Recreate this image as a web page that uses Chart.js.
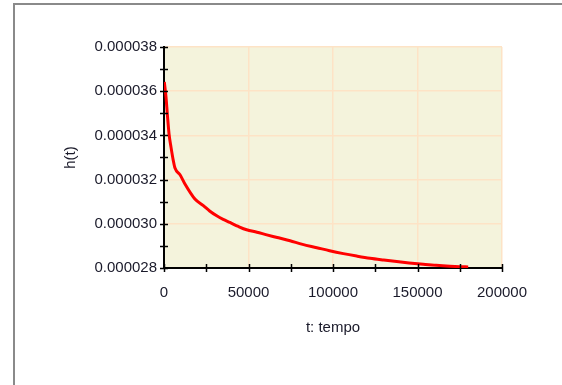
<!DOCTYPE html>
<html lang="pt">
<head>
    <meta charset="UTF-8">
    <title>h(t)</title>
    <script src="https://cdn.jsdelivr.net/npm/chart.js@4.4.0/dist/chart.umd.min.js"></script>
    <style>
        body{ margin:0; overflow:hidden; background:#fff; }
        .frame{
            position:absolute; left:13px; top:3px;
            width:600px; height:400px;
            border-left:2px solid #8a8a8a;
            border-top:2px solid #8a8a8a;
        }
        .box{ position:absolute; left:0; top:0; width:562px; height:385px; }
    </style>
</head>
<body>
    <div class="frame"></div>
    <div class="box"><canvas id="myChart" width="562" height="385"></canvas></div>

    <script>
        // tempo (s) e altura h(t)
        const tValues = [180, 1180, 1950, 2960, 4140, 5500, 6500, 9470, 12400, 18300, 23300, 27000, 31200, 35000, 39000,
            44000, 48900, 55000, 60800, 67000, 74600, 82000, 90400, 98000, 106100, 114000, 121900, 130000,
            137700, 145000, 153400, 161000, 169200, 175000, 180000]
        const hValues = [36.42e-6, 35.74e-6, 34.99e-6, 34.08e-6, 33.47e-6, 32.86e-6, 32.52e-6, 32.22e-6, 31.8e-6, 31.12e-6,
            30.82e-6, 30.58e-6, 30.36e-6, 30.2e-6, 30.06e-6, 29.88e-6, 29.73e-6, 29.62e-6, 29.5e-6, 29.38e-6,
            29.23e-6, 29.07e-6, 28.92e-6, 28.78e-6, 28.65e-6, 28.54e-6, 28.44e-6, 28.36e-6, 28.29e-6, 28.23e-6,
            28.17e-6, 28.12e-6, 28.08e-6, 28.06e-6, 28.05e-6]
        const xTicks = [0, 50000, 100000, 150000, 200000]
        const yTicks = ['0.000028', '0.000030', '0.000032', '0.000034', '0.000036', '0.000038']

        const points = tValues.map((t, i) => ({x: t, y: hValues[i]}))

        // fundo da area do grafico + tracinhos cruzando os eixos
        const plotStuff = {
            id: 'plotStuff',
            beforeDraw(chart){
                const a = chart.chartArea
                const c = chart.ctx
                c.save()
                c.fillStyle = '#f4f3dc'
                c.fillRect(a.left, a.top, a.right - a.left, a.bottom - a.top)
                c.restore()
            },
            afterDraw(chart){
                const c = chart.ctx
                const xs = chart.scales.x, ys = chart.scales.y
                c.save()
                c.strokeStyle = '#000'
                c.lineWidth = 1.5
                c.beginPath()
                ys.ticks.forEach((t, i) => {
                    const py = Math.round(ys.getPixelForTick(i)) + 0.5
                    c.moveTo(ys.right - 4, py); c.lineTo(ys.right + 4, py)
                })
                xs.ticks.forEach((t, i) => {
                    const px = Math.round(xs.getPixelForTick(i)) + 0.5
                    c.moveTo(px, xs.top - 4); c.lineTo(px, xs.top + 4)
                })
                c.stroke()
                c.restore()
            }
        }

        const font = {family: '"Liberation Sans", Arial, sans-serif', size: 15}
        const ctx = document.getElementById('myChart').getContext('2d')
        const myChart = new Chart(ctx, {
            type: 'line',
            data: {
                datasets: [{
                    data: points,
                    borderColor: '#ff0000',
                    borderWidth: 3,
                    pointRadius: 0,
                    cubicInterpolationMode: 'monotone',
                    fill: false
                }]
            },
            options: {
                responsive: false,
                animation: false,
                layout: {padding: {left: 0, top: 47, right: 60, bottom: 37}},
                plugins: {legend: {display: false}, tooltip: {enabled: false}},
                scales: {
                    x: {
                        type: 'linear',
                        min: 0, max: 200000,
                        afterFit: (s) => { s.height = 80 },
                        ticks: {
                            stepSize: 25000,
                            color: '#1a1a2a',
                            font: font,
                            padding: 16,
                            maxRotation: 0,
                            autoSkip: false,
                            callback: (v, i) => i % 2 ? '' : String(xTicks[i / 2])
                        },
                        grid: {
                            drawTicks: false,
                            color: (c) => c.index % 2 ? 'rgba(0,0,0,0)' : '#fde3c6',
                            lineWidth: 1.5
                        },
                        border: {color: '#000', width: 2},
                        title: {display: true, text: 't: tempo', color: '#1a1a2a', font: font, padding: {top: 11, bottom: 11}}
                    },
                    y: {
                        min: 0.000028, max: 0.000038,
                        afterFit: (s) => { s.width = 164 },
                        ticks: {
                            stepSize: 0.000001,
                            color: '#1a1a2a',
                            font: font,
                            padding: 7,
                            autoSkip: false,
                            callback: (v, i) => i % 2 ? '' : yTicks[i / 2]
                        },
                        grid: {
                            drawTicks: false,
                            color: (c) => c.index % 2 ? 'rgba(0,0,0,0)' : '#fde3c6',
                            lineWidth: 1.5
                        },
                        border: {color: '#000', width: 2},
                        title: {display: true, text: 'h(t)', color: '#1a1a2a', font: font, padding: {top: 62, bottom: 62}}
                    }
                }
            },
            plugins: [plotStuff]
        })
    </script>
</body>
</html>
